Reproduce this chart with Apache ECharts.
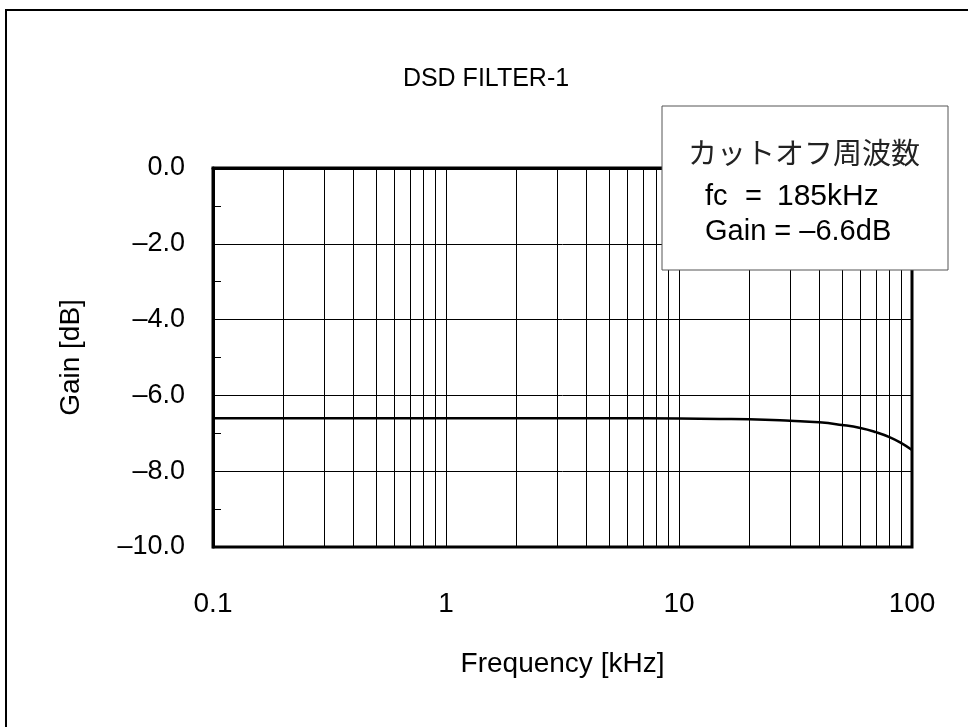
<!DOCTYPE html>
<html>
<head>
<meta charset="utf-8">
<script src="https://cdn.jsdelivr.net/npm/echarts@6/dist/echarts.min.js"></script>
<style>
  html, body { margin: 0; padding: 0; background: #fff; }
  #chart { width: 968px; height: 727px; }
</style>
</head>
<body>
<div id="chart"></div>
<script>
// frequency response (kHz, dB)
var freq = [0.1, 0.2, 0.5, 1, 2, 5, 10, 15, 20, 30, 40, 50, 60, 70, 80, 90, 100];
var gain = [-6.60, -6.60, -6.60, -6.60, -6.60, -6.60, -6.61, -6.62, -6.63, -6.67, -6.71, -6.78, -6.86, -6.97, -7.10, -7.26, -7.44];

// log minor grid positions (decades are drawn by the axis split lines)
var minorFreqs = [0.2, 0.3, 0.4, 0.5, 0.6, 0.7, 0.8, 0.9,
                  2, 3, 4, 5, 6, 7, 8, 9,
                  20, 30, 40, 50, 60, 70, 80, 90];

var xTickLabels = {0.1: '0.1', 1: '1', 10: '10', 100: '100'};

var font = '"Liberation Sans", Arial, sans-serif';

var chart = echarts.init(document.getElementById('chart'), null, {renderer: 'canvas'});

var option = {
    animation: false,
    backgroundColor: '#fff',
    title: {
        text: 'DSD FILTER-1',
        left: 481,
        top: 62,
        textAlign: 'center',
        textStyle: {fontFamily: font, fontSize: 25, fontWeight: 'normal', color: '#000'}
    },
    grid: {
        left: 213, top: 168, right: 56, bottom: 180,
        show: true, borderColor: '#000', borderWidth: 3, backgroundColor: 'transparent'
    },
    xAxis: {
        type: 'log',
        logBase: 10,
        min: 0.1,
        max: 100,
        name: 'Frequency [kHz]',
        nameLocation: 'middle',
        nameGap: 103,
        nameTextStyle: {fontFamily: font, fontSize: 28, color: '#000'},
        axisLine: {lineStyle: {color: '#000', width: 3}},
        axisTick: {show: false},
        axisLabel: {
            margin: 43, fontFamily: font, fontSize: 28, color: '#000',
            formatter: function (v) {
                var k = Math.round(v * 10) / 10;
                return xTickLabels[k] || '';
            }
        },
        splitLine: {show: true, lineStyle: {color: '#000', width: 1}}
    },
    yAxis: {
        type: 'value',
        min: -10,
        max: 0,
        interval: 2,
        name: 'Gain [dB]',
        nameLocation: 'middle',
        nameGap: 128,
        nameTextStyle: {fontFamily: font, fontSize: 28, color: '#000'},
        axisLine: {lineStyle: {color: '#000', width: 3}},
        axisTick: {show: false},
        minorTick: {show: true, splitNumber: 2, length: -8, lineStyle: {color: '#000', width: 1}},
        axisLabel: {
            margin: 28, fontFamily: font, fontSize: 27, color: '#000',
            formatter: function (v) {
                if (v === 0) return '0.0';
                return '\u2013' + Math.abs(v).toFixed(1);
            }
        },
        splitLine: {show: true, lineStyle: {color: '#000', width: 1}}
    },
    series: [{
        type: 'line',
        data: freq.map(function (f, i) { return [f, gain[i]]; }),
        smooth: true,
        showSymbol: false,
        lineStyle: {color: '#000', width: 2.5},
        z: 5,
        markLine: {
            silent: true,
            symbol: 'none',
            label: {show: false},
            lineStyle: {color: '#000', width: 1, type: 'solid'},
            data: minorFreqs.map(function (f) { return {xAxis: f}; }),
            z: 1
        }
    }],
    graphic: [
        {
            type: 'rect',
            shape: {x: 6, y: 10, width: 1000, height: 800},
            style: {fill: 'none', stroke: '#000', lineWidth: 2},
            silent: true
        },
        {
            type: 'rect',
            zlevel: 1,
            shape: {x: 662, y: 106, width: 286, height: 164},
            style: {fill: '#fff', stroke: '#555', lineWidth: 1}
        },
        {
            type: 'text',
            zlevel: 1,
            x: 804, y: 153,
            style: {text: 'カットオフ周波数', fontFamily: '"Noto Sans CJK JP", sans-serif', fontSize: 29,
                    fill: '#222', align: 'center', verticalAlign: 'middle'}
        },
        {
            type: 'text',
            zlevel: 1,
            x: 705, y: 197,
            style: {text: 'fc', fontFamily: font, fontSize: 29, fill: '#000', verticalAlign: 'middle'}
        },
        {
            type: 'text',
            zlevel: 1,
            x: 745, y: 197,
            style: {text: '=', fontFamily: font, fontSize: 29, fill: '#000', verticalAlign: 'middle'}
        },
        {
            type: 'text',
            zlevel: 1,
            x: 777, y: 197,
            style: {text: '185kHz', fontFamily: font, fontSize: 30, fill: '#000', verticalAlign: 'middle'}
        },
        {
            type: 'text',
            zlevel: 1,
            x: 705, y: 232,
            style: {text: 'Gain = \u20136.6dB', fontFamily: font, fontSize: 29, fill: '#000', verticalAlign: 'middle'}
        }
    ]
};

chart.setOption(option);
</script>
</body>
</html>
